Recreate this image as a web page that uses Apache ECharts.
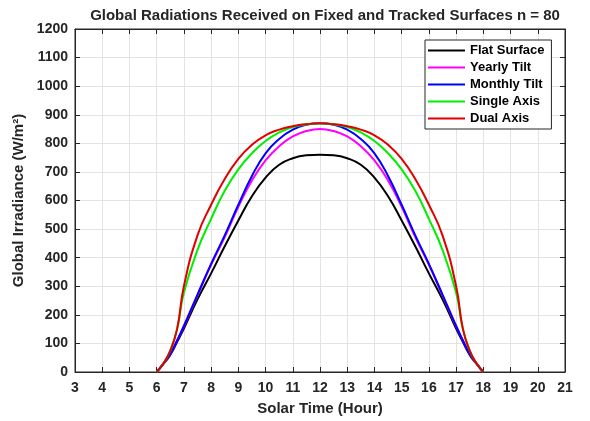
<!DOCTYPE html>
<html lang="en">
<head>
    <meta charset="UTF-8">
    <title>Global Radiations</title>
    <script src="https://cdn.jsdelivr.net/npm/echarts@6/dist/echarts.min.js"></script>
    <style>
        html, body { margin: 0; padding: 0; background: #fff; }
        #chart { width: 590px; height: 421px; }
    </style>
</head>
<body>
    <div id="chart"></div>
    <script>
        // solar time (hour) and irradiance (W/m2)
        var hours = [6, 6.25, 6.5, 6.75, 7, 7.5, 8, 8.5, 9, 9.5, 10, 10.5, 11, 11.5, 12,
                     12.5, 13, 13.5, 14, 14.5, 15, 15.5, 16, 16.5, 17, 17.25, 17.5, 17.75, 18];
        var flatSurface = [0, 28, 60, 105, 152, 254, 345, 440, 530, 615, 680, 725, 748, 758, 760,
                           758, 748, 725, 680, 615, 530, 440, 345, 254, 152, 105, 60, 28, 0];
        var yearlyTilt = [0, 30, 63, 110, 160, 268, 375, 472, 578, 670, 740, 790, 824, 843, 850,
                          843, 824, 790, 740, 670, 578, 472, 375, 268, 160, 110, 63, 30, 0];
        var monthlyTilt = [0, 30, 63, 110, 161, 271, 378, 478, 585, 686, 765, 815, 848, 865, 870,
                           865, 848, 815, 765, 686, 585, 478, 378, 271, 161, 110, 63, 30, 0];
        var singleAxis = [0, 30, 75, 150, 277, 427, 536, 634, 709, 765, 808, 838, 857, 866, 870,
                          866, 857, 838, 808, 765, 709, 634, 536, 427, 277, 150, 75, 30, 0];
        var dualAxis = [0, 30, 75, 150, 300, 478, 585, 675, 746, 795, 828, 848, 860, 867, 870,
                        867, 860, 848, 828, 795, 746, 675, 585, 478, 300, 150, 75, 30, 0];

        var seriesNames = ['Flat Surface', 'Yearly Tilt', 'Monthly Tilt', 'Single Axis', 'Dual Axis'];
        var seriesValues = [flatSurface, yearlyTilt, monthlyTilt, singleAxis, dualAxis];
        var seriesColors = ['#000000', '#ff00ff', '#0000ff', '#00ee00', '#e00000'];

        var textColor = '#262626';
        var font = 'Liberation Sans, Arial, sans-serif';

        function pairs(values) {
            return hours.map(function (h, i) { return [h, values[i]]; });
        }

        var myChart = echarts.init(document.getElementById('chart'), null, { renderer: 'canvas' });

        var tickStyle = { show: true, inside: true, length: 5, lineStyle: { color: textColor } };

        myChart.setOption({
            animation: false,
            backgroundColor: '#fff',
            title: {
                text: 'Global Radiations Received on Fixed and Tracked Surfaces n = 80',
                left: 320,
                textAlign: 'center',
                top: 3,
                textStyle: { fontFamily: font, fontWeight: 'bold', fontSize: 15, color: textColor }
            },
            legend: {
                data: seriesNames,
                orient: 'vertical',
                left: 425,
                top: 40,
                icon: 'rect',
                itemWidth: 37,
                itemHeight: 2,
                itemGap: 4,
                padding: [4, 7, 4, 3],
                borderColor: textColor,
                borderWidth: 1,
                backgroundColor: '#fff',
                textStyle: { fontFamily: font, fontWeight: 'bold', fontSize: 13, color: '#000' }
            },
            grid: {
                left: 75, right: 25, top: 29, bottom: 43,
                show: true, borderColor: textColor, borderWidth: 1, backgroundColor: '#fff'
            },
            xAxis: [{
                type: 'value',
                min: 3, max: 21, interval: 1,
                name: 'Solar Time (Hour)',
                nameLocation: 'middle',
                nameGap: 29,
                nameTextStyle: { fontFamily: font, fontWeight: 'bold', fontSize: 15, color: textColor },
                axisLine: { show: true, onZero: false, lineStyle: { color: textColor } },
                axisTick: tickStyle,
                axisLabel: { fontFamily: font, fontWeight: 'bold', fontSize: 14, color: textColor, margin: 9 },
                splitLine: { show: true, lineStyle: { color: '#e3e3e3' } }
            }, {
                type: 'value',
                position: 'top',
                min: 3, max: 21, interval: 1,
                axisLine: { show: true, onZero: false, lineStyle: { color: textColor } },
                axisTick: tickStyle,
                axisLabel: { show: false },
                splitLine: { show: false }
            }],
            yAxis: [{
                type: 'value',
                min: 0, max: 1200, interval: 100,
                name: 'Global Irradiance (W/m²)',
                nameLocation: 'middle',
                nameGap: 44,
                nameTextStyle: { fontFamily: font, fontWeight: 'bold', fontSize: 15, color: textColor },
                axisLine: { show: true, onZero: false, lineStyle: { color: textColor } },
                axisTick: tickStyle,
                axisLabel: {
                    fontFamily: font, fontWeight: 'bold', fontSize: 14, color: textColor, margin: 7,
                    formatter: function (v) { return String(v); }
                },
                splitLine: { show: true, lineStyle: { color: '#e3e3e3' } }
            }, {
                type: 'value',
                position: 'right',
                min: 0, max: 1200, interval: 100,
                axisLine: { show: true, onZero: false, lineStyle: { color: textColor } },
                axisTick: tickStyle,
                axisLabel: { show: false },
                splitLine: { show: false }
            }],
            series: seriesNames.map(function (name, i) {
                return {
                    name: name,
                    type: 'line',
                    data: pairs(seriesValues[i]),
                    smooth: 0.5,
                    showSymbol: false,
                    symbol: 'none',
                    lineStyle: { width: 2, color: seriesColors[i] },
                    itemStyle: { color: seriesColors[i] }
                };
            })
        });
    </script>
</body>
</html>
